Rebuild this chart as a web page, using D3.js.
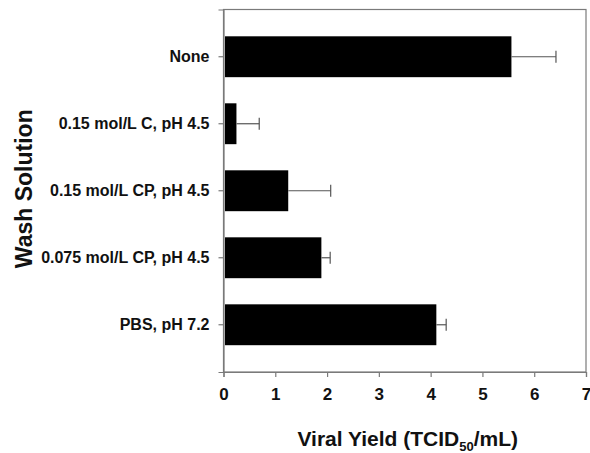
<!DOCTYPE html>
<html><head><meta charset="utf-8">
<script src="https://cdn.jsdelivr.net/npm/d3@7"></script>
<style>
html,body{margin:0;padding:0;background:#fff;}
svg{display:block;font-family:"Liberation Sans",Arial,sans-serif;}
</style></head>
<body><svg id="c" width="590" height="453"></svg>
<script>
const categories = ["None","0.15 mol/L C, pH 4.5","0.15 mol/L CP, pH 4.5","0.075 mol/L CP, pH 4.5","PBS, pH 7.2"];
const values = [5.56, 0.25, 1.25, 1.89, 4.11];
const errors = [0.86, 0.44, 0.82, 0.17, 0.19];
const xTicks = [0,1,2,3,4,5,6,7];
const xTitle = "Viral Yield (TCID";
const xTitleSub = "50";
const xTitleEnd = "/mL)";
const yTitle = "Wash Solution";

const svg = d3.select("#c");
const L = 223.5, R = 586, T = 9.5, B = 372;
const x = d3.scaleLinear().domain([0,7]).range([L,R]);
const y = d3.scaleBand().domain(categories).range([T,B]).paddingInner(0.39).paddingOuter(0.4);
const axisCol = "#7a7a7a";
const ff = "'Liberation Sans',Arial,sans-serif";

// frame
svg.append("rect").attr("x",L).attr("y",T).attr("width",R-L).attr("height",B-T)
  .attr("fill","none").attr("stroke",axisCol).attr("stroke-width",1.2);

// bars
svg.append("g").selectAll("rect").data(values).join("rect")
  .attr("x", x(0)+1.5)
  .attr("y", (d,i)=>y(categories[i]))
  .attr("width", d=>x(d)-x(0)-1.5)
  .attr("height", y.bandwidth())
  .attr("fill","#000");

// error bars
const eg = svg.append("g").attr("stroke","#555").attr("stroke-width",1.2);
values.forEach((v,i)=>{
  const cy = y(categories[i]) + y.bandwidth()/2;
  eg.append("line").attr("x1",x(v)).attr("x2",x(v+errors[i])).attr("y1",cy).attr("y2",cy);
  eg.append("line").attr("x1",x(v+errors[i])).attr("x2",x(v+errors[i])).attr("y1",cy-6).attr("y2",cy+6);
});

// x axis
const xa = svg.append("g").attr("transform",`translate(0,${B})`)
  .call(d3.axisBottom(x).tickValues(xTicks).tickFormat(d3.format("d")).tickSize(5).tickPadding(11));
xa.select(".domain").attr("stroke",axisCol).attr("stroke-width",1.2);
xa.selectAll(".tick line").attr("stroke",axisCol).attr("stroke-width",1.2);
xa.selectAll(".tick text").attr("font-size",17).attr("font-weight","bold").attr("fill","#111")
  .attr("font-family",ff);

// y axis
const ya = svg.append("g").attr("transform",`translate(${L},0)`)
  .call(d3.axisLeft(y).tickSize(5).tickPadding(9));
ya.select(".domain").attr("stroke",axisCol).attr("stroke-width",1.2);
ya.selectAll(".tick line").attr("stroke",axisCol).attr("stroke-width",1.2);
ya.selectAll(".tick text").attr("font-size",16).attr("font-weight","bold").attr("fill","#111")
  .attr("font-family",ff);

// x title
const xt = svg.append("text").attr("x",(L+R)/2 + 3).attr("y",446).attr("text-anchor","middle")
  .attr("font-size",21).attr("font-weight","bold").attr("fill","#111");
xt.append("tspan").text(xTitle);
xt.append("tspan").attr("font-size",13).attr("dy",5).text(xTitleSub);
xt.append("tspan").attr("dy",-5).text(xTitleEnd);

// y title
svg.append("text").attr("transform",`translate(32,${(T+B)/2-2}) rotate(-90)`)
  .attr("text-anchor","middle").attr("font-size",23).attr("font-weight","bold").attr("fill","#111")
  .text(yTitle);
</script></body></html>
